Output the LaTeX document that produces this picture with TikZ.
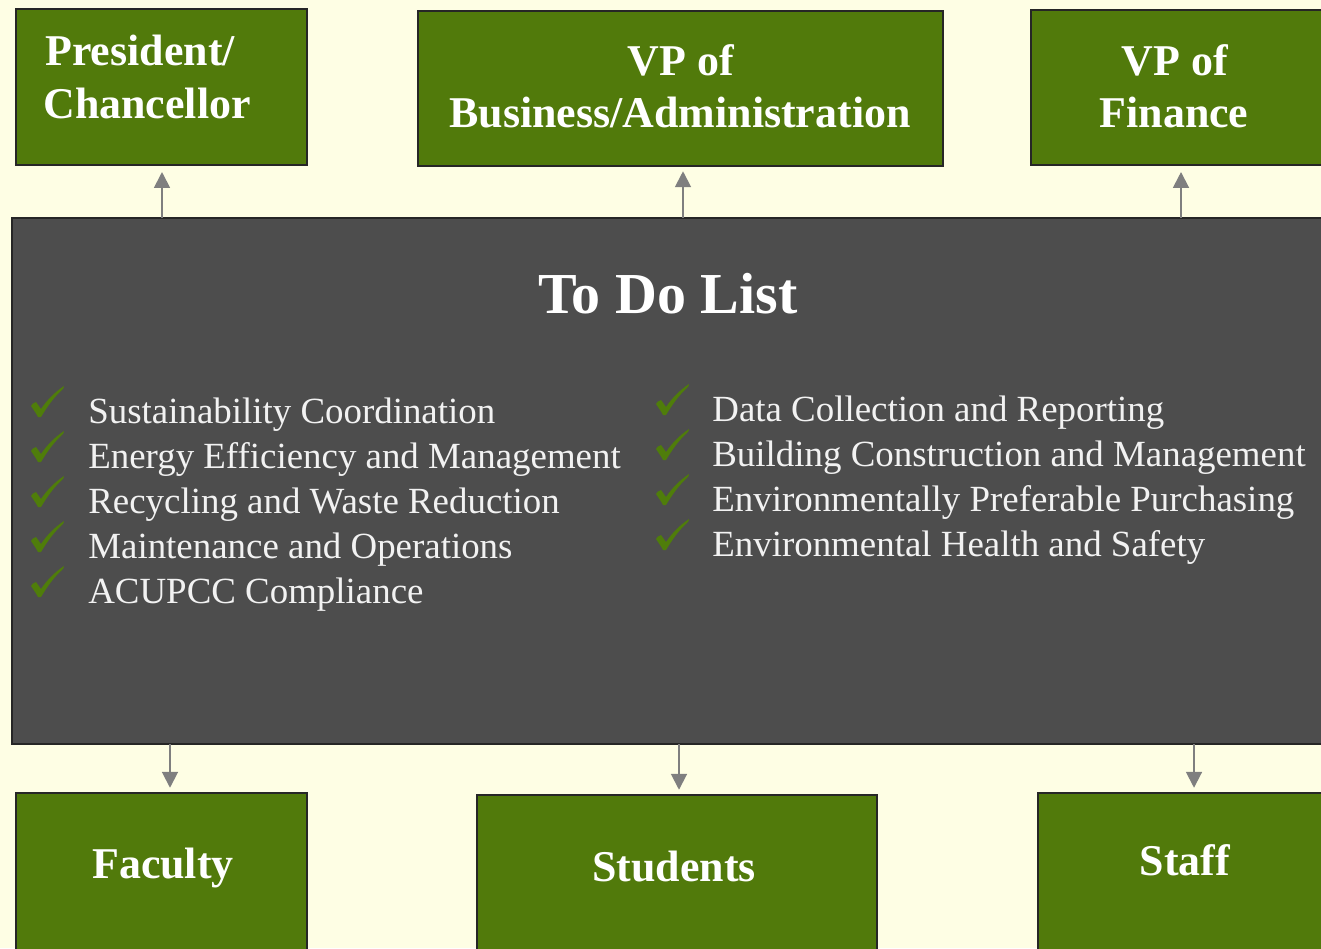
\documentclass[tikz,border=0pt]{standalone}
\usepackage{fontspec}
\setmainfont{Liberation Serif}
\usetikzlibrary{arrows.meta}
\definecolor{cream}{HTML}{FEFEE4}
\definecolor{leaf}{HTML}{517A0B}
\definecolor{slate}{HTML}{4D4D4D}
\definecolor{edge}{HTML}{262626}
\definecolor{link}{HTML}{7F7F7F}
\definecolor{tick}{HTML}{4F7D0A}
\begin{document}
\begin{tikzpicture}[x=0.02cm,y=-0.02cm,
  box/.style={draw=edge, line width=0.9pt, fill=leaf, inner sep=0, outer sep=0},
  panel/.style={draw=edge, line width=0.9pt, fill=slate, inner sep=0, outer sep=0},
  head/.style={text=white, font=\fontsize{25}{30}\selectfont\bfseries, inner sep=0},
  title/.style={text=white, font=\fontsize{33}{39}\selectfont\bfseries, inner sep=0},
  item/.style={text=white!95!black, font=\fontsize{21}{25}\selectfont, anchor=base west, inner sep=0},
  arr/.style={draw=link, line width=1.1pt, -{Triangle[width=9pt,length=9pt]}},
  checkmark/.pic={
    \fill[tick] (1,20) .. controls (2,18) and (3,17) .. (6,16) -- (11,23)
      .. controls (17,14) and (25,6) .. (34,0)
      .. controls (34,2) and (33,3) .. (32,4)
      .. controls (24,11) and (17,21) .. (11,31) -- (8,31)
      .. controls (6,27) and (3,23) .. (1,20) -- cycle;
  }]
\useasboundingbox (0,0) rectangle (1321,948);
\fill[cream] (0,0) rectangle (1321,948);
\clip (0,0) rectangle (1321,948);

% upper row
\node[box, minimum width=5.82cm, minimum height=3.12cm] (pres) at (161.5,87) {};
\node[box, minimum width=10.5cm, minimum height=3.10cm] (vpb) at (680.5,88.5) {};
\node[box, minimum width=6.0cm, minimum height=3.10cm] (vpf) at (1181,87.5) {};

\node[head, anchor=base west] (presA) at (45,65) {President/};
\node[head, anchor=base west] (presB) at (43,118) {Chancellor};
\node[head, anchor=base] (vpbA) at (681,75) {VP of};
\node[head, anchor=base] (vpbB) at (680,127) {Business/Administration};
\node[head, anchor=base] (vpfA) at (1175,75) {VP of};
\node[head, anchor=base] (vpfB) at (1174,127) {Finance};

% central panel
\node[panel, minimum width=26.56cm, minimum height=10.52cm] (todo) at (676,481) {};
\node[title, anchor=base] (ttl) at (668,313) {To Do List};

\foreach \t [count=\i from 0] in {Sustainability Coordination,
    Energy Efficiency and Management, Recycling and Waste Reduction,
    Maintenance and Operations, ACUPCC Compliance}{
  \pic at (30,386+45*\i) {checkmark};
  \node[item] (l\i) at (88,423+45*\i) {\t};
}
\foreach \t [count=\i from 0] in {Data Collection and Reporting,
    Building Construction and Management, Environmentally Preferable Purchasing,
    Environmental Health and Safety}{
  \pic at (655,384+45*\i) {checkmark};
  \node[item] (r\i) at (712,421+45*\i) {\t};
}

% lower row
\node[box, minimum width=5.82cm, minimum height=4.14cm] (fac) at (161.5,896.5) {};
\node[box, minimum width=8.0cm, minimum height=4.1cm] (stu) at (677,897.5) {};
\node[box, minimum width=6.24cm, minimum height=4.14cm] (stf) at (1194,896.5) {};
\node[head, anchor=base] (facT) at (163,878) {Faculty};
\node[head, anchor=base] (stuT) at (674,881) {Students};
\node[head, anchor=base] (stfT) at (1185,875) {Staff};

% connectors
\coordinate (u1) at (162,218);
\coordinate (u2) at (683,218);
\coordinate (u3) at (1181,218);
\draw[arr, shorten >=4pt] (u1) -- (u1 |- pres.south);
\draw[arr, shorten >=3pt] (u2) -- (u2 |- vpb.south);
\draw[arr, shorten >=4pt] (u3) -- (u3 |- vpf.south);
\coordinate (d1) at (170,744);
\coordinate (d2) at (679,744);
\coordinate (d3) at (1194,744);
\draw[arr, shorten >=3pt] (d1) -- (d1 |- fac.north);
\draw[arr, shorten >=3pt] (d2) -- (d2 |- stu.north);
\draw[arr, shorten >=3pt] (d3) -- (d3 |- stf.north);
\end{tikzpicture}
\end{document}
